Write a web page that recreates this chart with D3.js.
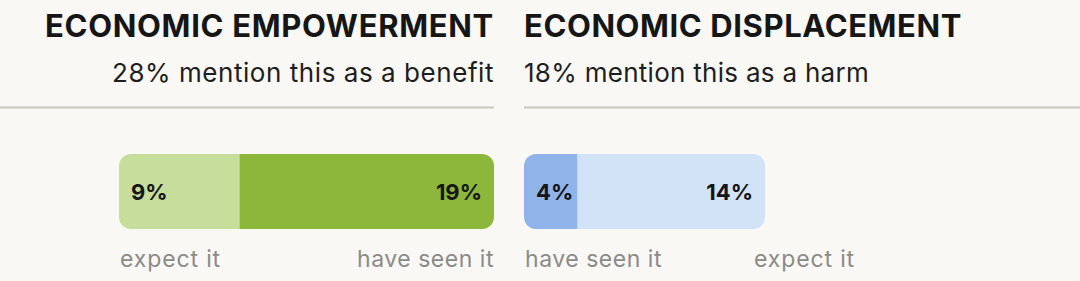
<!DOCTYPE html>
<html>
<head>
<meta charset="utf-8">
<script src="https://cdn.jsdelivr.net/npm/d3@7"></script>
<style>
  html, body { margin: 0; padding: 0; background: #f9f8f5; }
  svg { display: block; font-family: Inter, "Noto Sans", sans-serif; }
</style>
</head>
<body>
<svg id="chart" width="1080" height="281"></svg>
<script>
// panel data
const titles = ["ECONOMIC EMPOWERMENT", "ECONOMIC DISPLACEMENT"];
const subtitles = ["28% mention this as a benefit", "18% mention this as a harm"];
const empowermentLabels = ["expect it", "have seen it"];
const empowermentValues = [9, 19];
const displacementLabels = ["have seen it", "expect it"];
const displacementValues = [4, 14];
const colorsLeft = ["#c6dd9b", "#8db73b"];
const colorsRight = ["#90b4e9", "#d2e2f7"];

const svg = d3.select("#chart");
const W = 1080;

// shared scale: percent -> pixels
const x = d3.scaleLinear().domain([0, 28]).range([0, 375]);

const barTop = 154, barH = 75, radius = 12;

// headers
const leftEdge = 494, rightEdge = 524;

function fitText(sel, w) {
  // stretch letter spacing so text width matches the reference
  const n = sel.text().length;
  const len = sel.node().getComputedTextLength();
  sel.attr("letter-spacing", (w - len) / n);
}

const t1 = svg.append("text")
  .attr("x", leftEdge).attr("y", 37)
  .attr("text-anchor", "end")
  .attr("font-size", 31).attr("font-weight", 700)
  .attr("fill", "#161616")
  .text(titles[0]);
fitText(t1, 449);
const t2 = svg.append("text")
  .attr("x", rightEdge).attr("y", 37)
  .attr("font-size", 31).attr("font-weight", 700)
  .attr("fill", "#161616")
  .text(titles[1]);
fitText(t2, 438);

const s1 = svg.append("text")
  .attr("x", leftEdge).attr("y", 82)
  .attr("text-anchor", "end")
  .attr("font-size", 26)
  .attr("fill", "#1e1e1e")
  .text(subtitles[0]);
fitText(s1, 382);
const s2 = svg.append("text")
  .attr("x", rightEdge).attr("y", 82)
  .attr("font-size", 26)
  .attr("fill", "#1e1e1e")
  .text(subtitles[1]);
fitText(s2, 345);

// rules
svg.append("line").attr("x1", 0).attr("x2", leftEdge).attr("y1", 107.5).attr("y2", 107.5)
  .attr("stroke", "#c9c8c0").attr("stroke-width", 2);
svg.append("line").attr("x1", rightEdge).attr("x2", W).attr("y1", 107.5).attr("y2", 107.5)
  .attr("stroke", "#c9c8c0").attr("stroke-width", 2);

function drawBar(id, x0, values, labels, colors, labelRight, labelWidths) {
  const total = d3.sum(values);
  const starts = d3.cumsum([0].concat(values)).slice(0, values.length);
  const g = svg.append("g").attr("transform", `translate(${x0},0)`);

  g.append("clipPath").attr("id", id)
    .append("rect")
    .attr("x", 0).attr("y", barTop)
    .attr("width", x(total)).attr("height", barH)
    .attr("rx", radius);

  g.append("g").attr("clip-path", `url(#${id})`)
    .selectAll("rect")
    .data(values)
    .join("rect")
    .attr("x", (d, i) => x(starts[i]))
    .attr("y", barTop)
    .attr("width", d => x(d))
    .attr("height", barH)
    .attr("fill", (d, i) => colors[i]);

  // value labels inside
  g.append("text")
    .attr("x", x(0) + 12).attr("y", 200)
    .attr("font-size", 22).attr("font-weight", 700).attr("fill", "#161616")
    .text(values[0] + "%");
  g.append("text")
    .attr("x", x(total) - 12).attr("y", 200)
    .attr("text-anchor", "end")
    .attr("font-size", 22).attr("font-weight", 700).attr("fill", "#161616")
    .text(values[1] + "%");

  // category labels under
  const l0 = g.append("text")
    .attr("x", 1).attr("y", 267)
    .attr("font-size", 23).attr("fill", "#8b8a87")
    .text(labels[0]);
  fitText(l0, labelWidths[0]);
  const l1 = g.append("text")
    .attr("x", labelRight).attr("y", 267)
    .attr("text-anchor", "end")
    .attr("font-size", 23).attr("fill", "#8b8a87")
    .text(labels[1]);
  fitText(l1, labelWidths[1]);
}

const leftTotal = d3.sum(empowermentValues);
drawBar("clipL", leftEdge - x(leftTotal), empowermentValues, empowermentLabels, colorsLeft, x(leftTotal), [101, 137]);
drawBar("clipR", rightEdge, displacementValues, displacementLabels, colorsRight, 331, [137, 101]);
</script>
</body>
</html>
